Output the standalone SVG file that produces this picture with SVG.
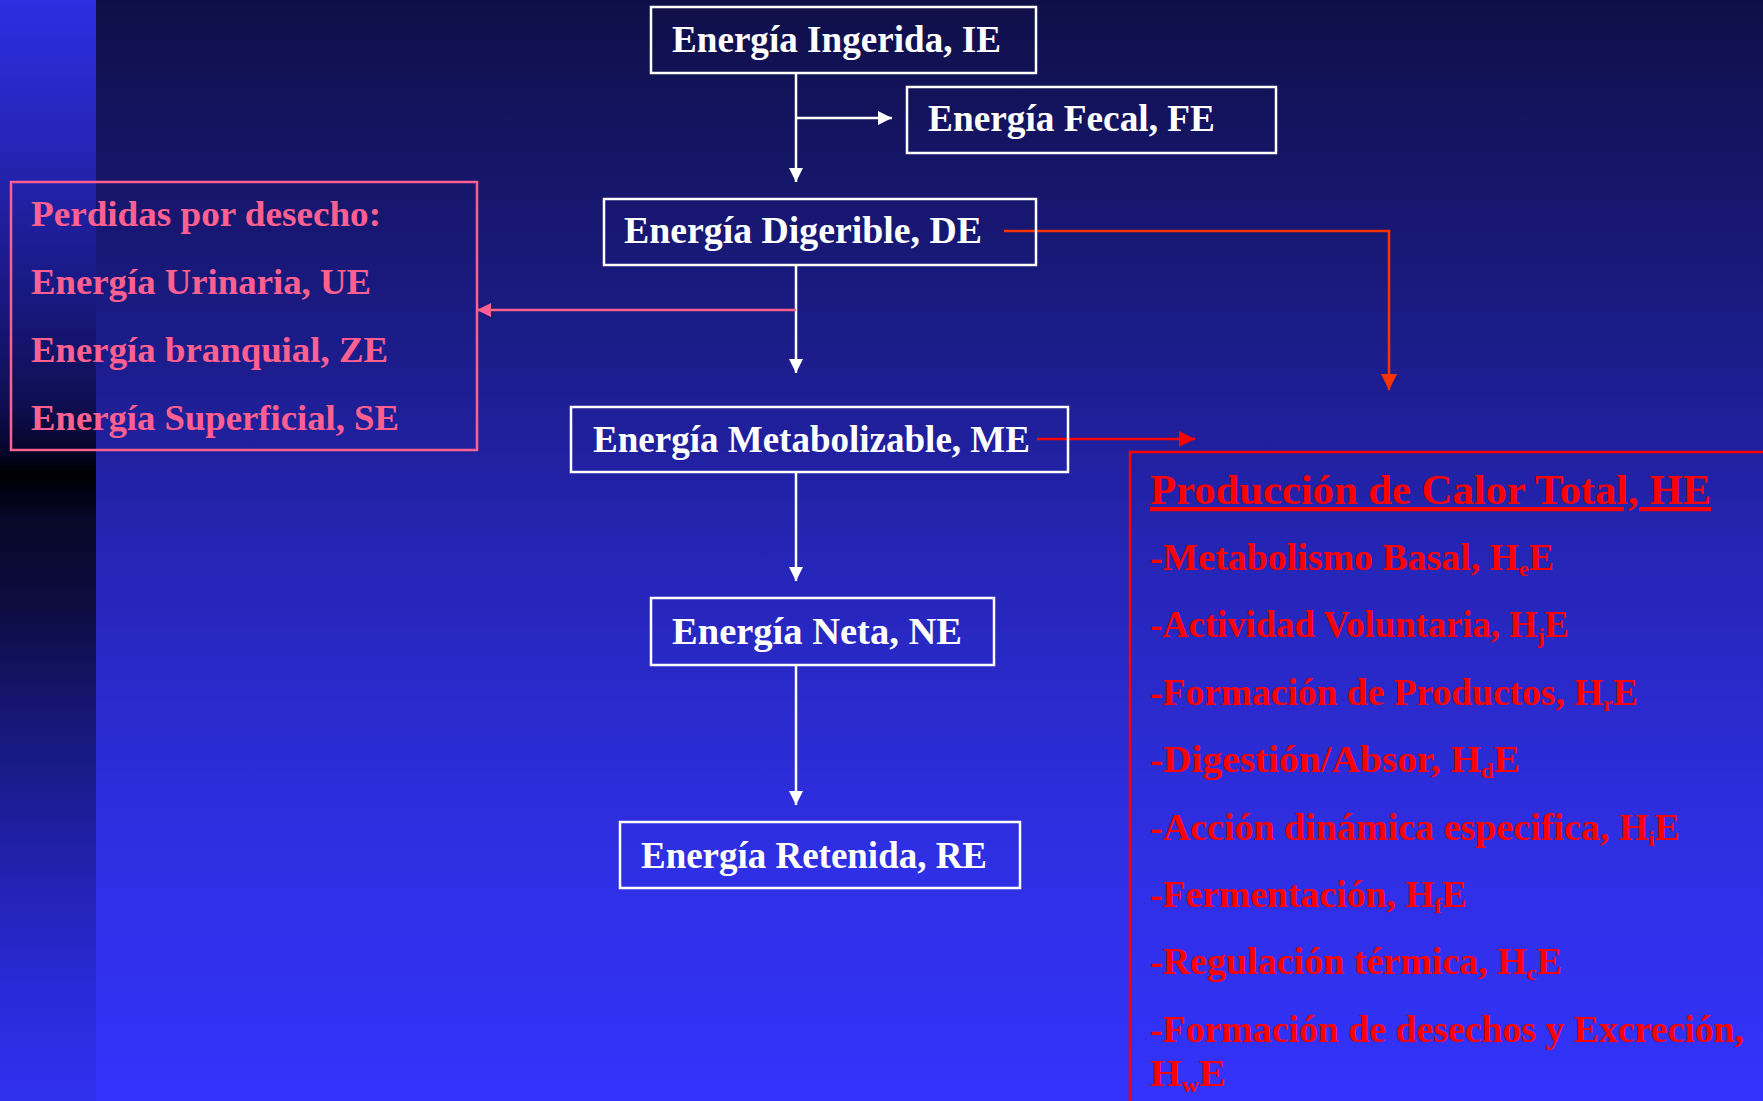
<svg xmlns="http://www.w3.org/2000/svg" width="1763" height="1101" viewBox="0 0 1763 1101">
<defs>
<linearGradient id="bg" x1="0" y1="0" x2="0" y2="1">
<stop offset="0" stop-color="#0f0f48"/>
<stop offset="0.3" stop-color="#1b1b86"/>
<stop offset="0.5" stop-color="#2525b5"/>
<stop offset="0.75" stop-color="#2e2ee0"/>
<stop offset="1" stop-color="#3333fc"/>
</linearGradient>
<linearGradient id="strip" x1="0" y1="0" x2="0" y2="1101" gradientUnits="userSpaceOnUse">
<stop offset="0" stop-color="#2e2ee2"/>
<stop offset="0.14" stop-color="#2424b4"/>
<stop offset="0.27" stop-color="#181880"/>
<stop offset="0.37" stop-color="#0e0e50"/>
<stop offset="0.41" stop-color="#05052a"/>
<stop offset="0.43" stop-color="#000000"/>
<stop offset="0.445" stop-color="#000012"/>
<stop offset="0.47" stop-color="#080828"/>
<stop offset="0.55" stop-color="#0c0c40"/>
<stop offset="0.64" stop-color="#151570"/>
<stop offset="0.77" stop-color="#2020a8"/>
<stop offset="0.9" stop-color="#2a2ad8"/>
<stop offset="1" stop-color="#3030f0"/>
</linearGradient>
<marker id="aw" viewBox="0 0 10 10" refX="10" refY="5" markerWidth="15" markerHeight="14" markerUnits="userSpaceOnUse" orient="auto">
<path d="M0,0 L10,5 L0,10 z" fill="#ffffff"/>
</marker>
<marker id="ap" viewBox="0 0 10 10" refX="10" refY="5" markerWidth="15" markerHeight="14" markerUnits="userSpaceOnUse" orient="auto">
<path d="M0,0 L10,5 L0,10 z" fill="#ff6090"/>
</marker>
<marker id="ao" viewBox="0 0 10 10" refX="10" refY="5" markerWidth="16" markerHeight="16" markerUnits="userSpaceOnUse" orient="auto">
<path d="M0,0 L10,5 L0,10 z" fill="#ff3300"/>
</marker>
<marker id="ar" viewBox="0 0 10 10" refX="10" refY="5" markerWidth="16" markerHeight="16" markerUnits="userSpaceOnUse" orient="auto">
<path d="M0,0 L10,5 L0,10 z" fill="#ff0000"/>
</marker>
</defs>
<style>
.box{fill:none;stroke:#ffffff;stroke-width:2.5}
.wt{font-family:"Liberation Serif","Times New Roman",serif;font-weight:bold;font-size:37px;fill:#ffffff}
.pk{font-family:"Liberation Serif","Times New Roman",serif;font-weight:bold;font-size:36px;fill:#ff6090}
.rd{font-family:"Liberation Serif","Times New Roman",serif;font-weight:bold;font-size:38px;fill:#ff0000}
.sub{font-size:22px}
.cw{fill:none;stroke:#ffffff;stroke-width:2.5}
</style>
<rect x="0" y="0" width="1763" height="1101" fill="url(#bg)"/>
<rect x="0" y="0" width="96" height="1101" fill="url(#strip)"/>

<g id="connectors">
<path class="cw" d="M796,73 V182" marker-end="url(#aw)"/>
<path class="cw" d="M796,118 H892" marker-end="url(#aw)"/>
<path class="cw" d="M796,265 V373" marker-end="url(#aw)"/>
<path d="M796,310 H477" fill="none" stroke="#ff6090" stroke-width="2.5" marker-end="url(#ap)"/>
<path d="M1004,231 H1389 V390" fill="none" stroke="#ff3300" stroke-width="2.5" marker-end="url(#ao)"/>
<path d="M1037,439 H1195" fill="none" stroke="#ff0000" stroke-width="2.5" marker-end="url(#ar)"/>
<path class="cw" d="M796,472 V581" marker-end="url(#aw)"/>
<path class="cw" d="M796,665 V805" marker-end="url(#aw)"/>
</g>

<g id="node-ie">
<rect class="box" x="651" y="7" width="385" height="66"/>
<text class="wt" x="672" y="52" textLength="329" lengthAdjust="spacingAndGlyphs">Energía Ingerida, IE</text>
</g>
<g id="node-fe">
<rect class="box" x="907" y="87" width="369" height="66"/>
<text class="wt" x="928" y="131" textLength="287" lengthAdjust="spacingAndGlyphs">Energía Fecal, FE</text>
</g>
<g id="node-de">
<rect class="box" x="604" y="199" width="432" height="66"/>
<text class="wt" x="624" y="243" textLength="358" lengthAdjust="spacingAndGlyphs">Energía Digerible, DE</text>
</g>
<g id="node-me">
<rect class="box" x="571" y="407" width="497" height="65"/>
<text class="wt" x="593" y="452" textLength="437" lengthAdjust="spacingAndGlyphs">Energía Metabolizable, ME</text>
</g>
<g id="node-ne">
<rect class="box" x="651" y="598" width="343" height="67"/>
<text class="wt" x="672" y="644" textLength="290" lengthAdjust="spacingAndGlyphs">Energía Neta, NE</text>
</g>
<g id="node-re">
<rect class="box" x="620" y="822" width="400" height="66"/>
<text class="wt" x="641" y="868" textLength="346" lengthAdjust="spacingAndGlyphs">Energía Retenida, RE</text>
</g>

<g id="node-perdidas">
<rect x="11" y="182" width="466" height="268" fill="none" stroke="#ff6090" stroke-width="2.5"/>
<text class="pk" x="31" y="226" textLength="350" lengthAdjust="spacingAndGlyphs">Perdidas por desecho:</text>
<text class="pk" x="31" y="294" textLength="340" lengthAdjust="spacingAndGlyphs">Energía Urinaria, UE</text>
<text class="pk" x="31" y="362" textLength="357" lengthAdjust="spacingAndGlyphs">Energía branquial, ZE</text>
<text class="pk" x="31" y="430" textLength="368" lengthAdjust="spacingAndGlyphs">Energía Superficial, SE</text>
</g>

<g id="node-he">
<rect x="1130" y="452" width="700" height="700" fill="none" stroke="#ff0000" stroke-width="2.5"/>
<text class="rd" x="1150" y="504" text-decoration="underline" textLength="561" lengthAdjust="spacingAndGlyphs" style="font-size:42px">Producción de Calor Total, HE</text>
<text class="rd" x="1150" y="570" textLength="404" lengthAdjust="spacingAndGlyphs">-Metabolismo Basal, H<tspan class="sub" dy="6">e</tspan><tspan dy="-6">E</tspan></text>
<text class="rd" x="1150" y="637" textLength="419" lengthAdjust="spacingAndGlyphs">-Actividad Voluntaria, H<tspan class="sub" dy="6">j</tspan><tspan dy="-6">E</tspan></text>
<text class="rd" x="1150" y="705" textLength="488" lengthAdjust="spacingAndGlyphs">-Formación de Productos, H<tspan class="sub" dy="6">r</tspan><tspan dy="-6">E</tspan></text>
<text class="rd" x="1150" y="772" textLength="370" lengthAdjust="spacingAndGlyphs">-Digestión/Absor, H<tspan class="sub" dy="6">d</tspan><tspan dy="-6">E</tspan></text>
<text class="rd" x="1150" y="840" textLength="530" lengthAdjust="spacingAndGlyphs">-Acción dinámica especifica, H<tspan class="sub" dy="6">i</tspan><tspan dy="-6">E</tspan></text>
<text class="rd" x="1150" y="907" textLength="317" lengthAdjust="spacingAndGlyphs">-Fermentación, H<tspan class="sub" dy="6">f</tspan><tspan dy="-6">E</tspan></text>
<text class="rd" x="1150" y="974" textLength="412" lengthAdjust="spacingAndGlyphs">-Regulación térmica, H<tspan class="sub" dy="6">c</tspan><tspan dy="-6">E</tspan></text>
<text class="rd" x="1150" y="1042" textLength="594" lengthAdjust="spacingAndGlyphs">-Formación de desechos y Excreción,</text>
<text class="rd" x="1150" y="1086" textLength="76" lengthAdjust="spacingAndGlyphs">H<tspan class="sub" dy="6">w</tspan><tspan dy="-6">E</tspan></text>
</g>
</svg>
